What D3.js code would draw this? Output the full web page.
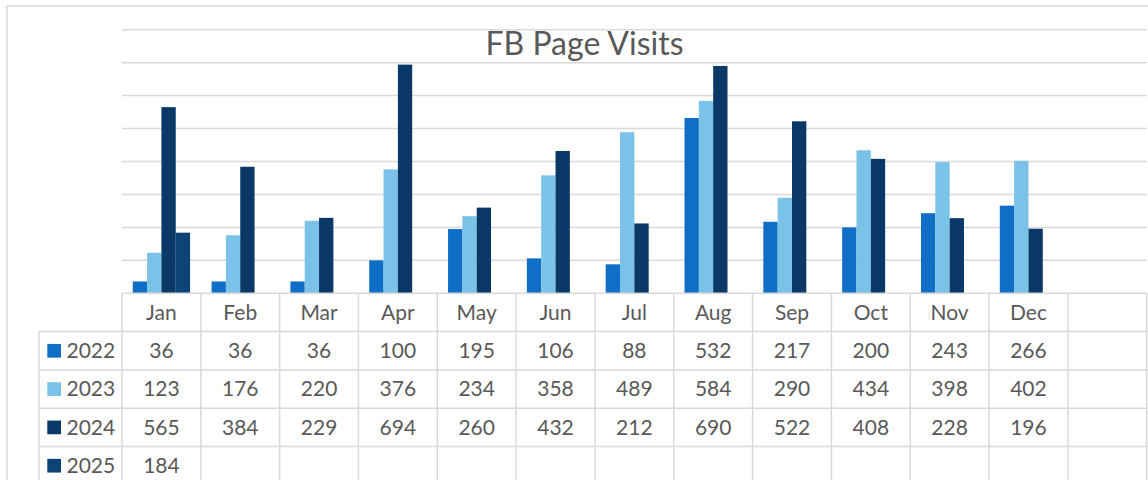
<!DOCTYPE html>
<html>
<head>
<meta charset="utf-8">
<script src="https://cdn.jsdelivr.net/npm/d3@7"></script>
<style>
  html, body { margin: 0; padding: 0; background: #fff; }
  svg { display: block; font-family: Lato, "Open Sans", sans-serif; }
</style>
</head>
<body>
<svg id="chart" width="1148" height="480"></svg>
<script>
var months = ["Jan", "Feb", "Mar", "Apr", "May", "Jun", "Jul", "Aug", "Sep", "Oct", "Nov", "Dec", ""];
var years = ["2022", "2023", "2024", "2025"];
var v2022 = [36, 36, 36, 100, 195, 106, 88, 532, 217, 200, 243, 266];
var v2023 = [123, 176, 220, 376, 234, 358, 489, 584, 290, 434, 398, 402];
var v2024 = [565, 384, 229, 694, 260, 432, 212, 690, 522, 408, 228, 196];
var v2025 = [184];
var colors = ["#0f6fc6", "#7ac2e8", "#0a3867", "#0c4477"];
var yTicks = [100, 200, 300, 400, 500, 600, 700, 800];

var series = [v2022, v2023, v2024, v2025];
var svg = d3.select("#chart");
var gridColor = "#d9d9d9";
var textColor = "#595959";

var plotLeft = 122, plotRight = 1146.7, base = 293.3, plotTop = 29.7;
var rowH = 38.3, legendLeft = 39;

// outer chart border
svg.append("path")
  .attr("d", "M7,480V6H1148")
  .attr("fill", "none")
  .attr("stroke", gridColor)
  .attr("stroke-width", 1.5);

var x0 = d3.scaleBand().domain(months).range([plotLeft, plotRight]).paddingInner(0).paddingOuter(0);
var x1 = d3.scaleBand().domain(years).range([0, x0.bandwidth()]).paddingInner(0).paddingOuter(0.75);
var y = d3.scaleLinear().domain([0, 800]).range([base, plotTop]);

// gridlines
svg.append("g").selectAll("line")
  .data(yTicks)
  .enter().append("line")
    .attr("x1", plotLeft).attr("x2", plotRight)
    .attr("y1", function(d) { return y(d); })
    .attr("y2", function(d) { return y(d); })
    .attr("stroke", gridColor)
    .attr("stroke-width", 1.5);

// title
svg.append("text")
  .attr("x", 584.5).attr("y", 55)
  .attr("text-anchor", "middle")
  .attr("fill", textColor)
  .attr("font-size", 32)
  .text("FB Page Visits");

// bars
var bars = [];
series.forEach(function(vals, si) {
  vals.forEach(function(v, mi) {
    bars.push({year: years[si], month: months[mi], value: v, color: colors[si]});
  });
});
svg.append("g").selectAll("rect")
  .data(bars)
  .enter().append("rect")
    .attr("x", function(d) { return x0(d.month) + x1(d.year); })
    .attr("width", x1.bandwidth())
    .attr("y", function(d) { return y(d.value); })
    .attr("height", function(d) { return y(0) - y(d.value); })
    .attr("fill", function(d) { return d.color; });

// data table
var table = svg.append("g")
  .attr("stroke", gridColor)
  .attr("stroke-width", 1.5);
var tableBottom = 480;

table.append("line").attr("x1", plotLeft).attr("x2", plotRight).attr("y1", base).attr("y2", base);
for (var r = 1; r <= years.length; r++) {
  table.append("line")
    .attr("x1", legendLeft).attr("x2", plotRight)
    .attr("y1", base + r * rowH).attr("y2", base + r * rowH);
}
table.append("line").attr("x1", legendLeft).attr("x2", legendLeft)
  .attr("y1", base + rowH).attr("y2", tableBottom);
months.forEach(function(m) {
  var xx = x0(m);
  table.append("line").attr("x1", xx).attr("x2", xx).attr("y1", base).attr("y2", tableBottom);
});
table.append("line").attr("x1", plotRight).attr("x2", plotRight).attr("y1", base).attr("y2", tableBottom);

// month labels
svg.append("g").selectAll("text")
  .data(months)
  .enter().append("text")
    .attr("x", function(d) { return x0(d) + x0.bandwidth() / 2; })
    .attr("y", base + rowH / 2)
    .attr("dy", "0.35em")
    .attr("text-anchor", "middle")
    .attr("fill", textColor)
    .attr("font-size", 21)
    .text(function(d) { return d; });

// legend keys and values
years.forEach(function(yr, si) {
  var cy = base + (si + 1) * rowH + rowH / 2;
  svg.append("rect")
    .attr("x", 47.3).attr("y", cy - 6.8)
    .attr("width", 13.7).attr("height", 13.7)
    .attr("fill", colors[si]);
  svg.append("text")
    .attr("x", 66.5).attr("y", cy)
    .attr("dy", "0.35em")
    .attr("fill", textColor)
    .attr("font-size", 21)
    .text(yr);
  svg.append("g").selectAll("text")
    .data(series[si])
    .enter().append("text")
      .attr("x", function(d, i) { return x0(months[i]) + x0.bandwidth() / 2; })
      .attr("y", cy)
      .attr("dy", "0.35em")
      .attr("text-anchor", "middle")
      .attr("fill", textColor)
      .attr("font-size", 21)
      .text(function(d) { return d; });
});
</script>
</body>
</html>
